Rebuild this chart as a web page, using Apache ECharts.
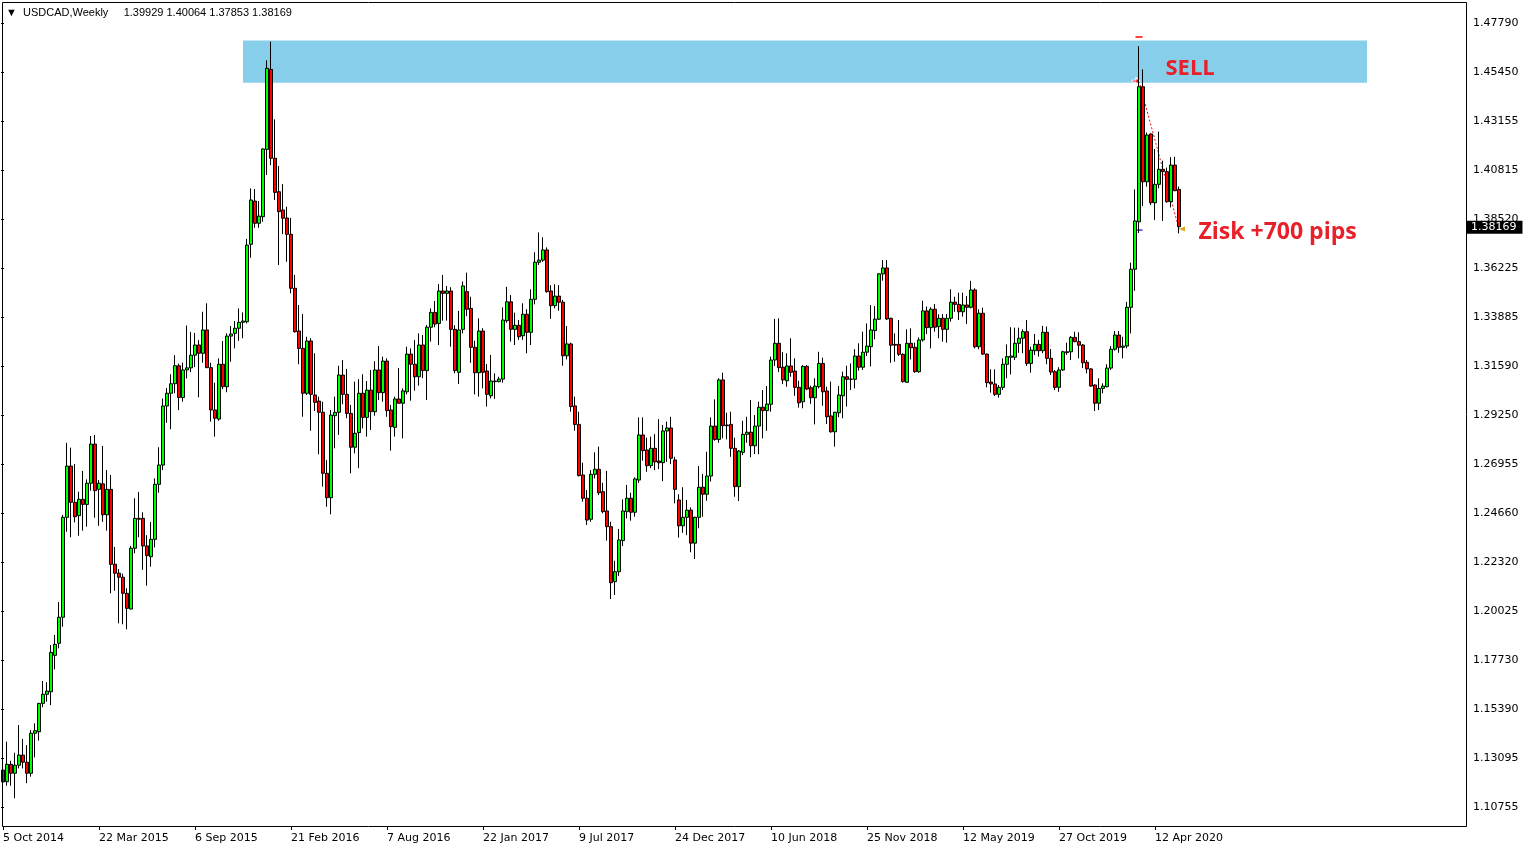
<!DOCTYPE html>
<html><head><meta charset="utf-8">
<script src="https://cdn.jsdelivr.net/npm/echarts@6/dist/echarts.min.js"></script>
<style>html,body{margin:0;padding:0;background:#fff}#c{width:1530px;height:850px}</style>
</head><body><div id="c"></div>
<script>
// ---- data (weekly USDCAD, one entry per week from 5 Oct 2014) ----
const OPEN = [
1.1250,1.1195,1.1277,1.1235,1.1273,1.1321,1.1287,1.1235,1.1424,1.1431,
1.1565,1.1608,1.1620,1.1792,1.1849,1.1972,1.2444,1.2686,1.2515,1.2452,
1.2529,1.2505,1.2605,1.2790,1.2576,1.2602,1.2456,1.2576,1.2222,1.2180,
1.2161,1.2085,1.2011,1.2298,1.2439,1.2439,1.2309,1.2258,1.2340,1.2600,
1.2691,1.2970,1.3030,1.3075,1.3160,1.3010,1.3140,1.3150,1.3210,1.3258,
1.3219,1.3329,1.3151,1.2951,1.2908,1.3167,1.3061,1.3300,1.3313,1.3337,
1.3365,1.3368,1.3734,1.3938,1.3833,1.3864,1.4182,1.4560,1.4140,1.3982,
1.3896,1.3858,1.3781,1.3526,1.3324,1.3242,1.3030,1.3277,1.3022,1.2993,
1.2940,1.2652,1.2537,1.2924,1.2940,1.3116,1.3025,1.2935,1.2775,1.2844,
1.3030,1.2916,1.3045,1.2943,1.3140,1.3033,1.3182,1.2951,1.2869,1.3003,
1.2983,1.3037,1.3215,1.3167,1.3108,1.3258,1.3137,1.3342,1.3412,1.3360,
1.3513,1.3502,1.3513,1.3332,1.3129,1.3332,1.3510,1.3431,1.3247,1.3127,
1.3324,1.3135,1.3018,1.3088,1.3085,1.3097,1.3373,1.3462,1.3332,1.3351,
1.3302,1.3403,1.3318,1.3474,1.3649,1.3659,1.3707,1.3513,1.3444,1.3489,
1.3460,1.3207,1.3263,1.2970,1.2883,1.2644,1.2534,1.2435,1.2647,1.2671,
1.2565,1.2474,1.2400,1.2140,1.2187,1.2334,1.2471,1.2534,1.2468,1.2620,
1.2833,1.2762,1.2688,1.2770,1.2710,1.2702,1.2852,1.2866,1.2715,1.2526,
1.2404,1.2444,1.2478,1.2322,1.2444,1.2586,1.2553,1.2639,1.2875,1.2812,
1.3093,1.2880,1.2883,1.2770,1.2589,1.2751,1.2836,1.2846,1.2782,1.2875,
1.2964,1.2948,1.2978,1.3187,1.3266,1.3153,1.3089,1.3159,1.3135,1.3058,
1.2990,1.3157,1.3056,1.3009,1.3061,1.3171,1.3041,1.2923,1.2848,1.2938,
1.3018,1.3108,1.3097,1.3096,1.3206,1.3153,1.3224,1.3250,1.3326,1.3380,
1.3594,1.3622,1.3384,1.3261,1.3261,1.3214,1.3082,1.3266,1.3247,1.3132,
1.3282,1.3419,1.3340,1.3427,1.3345,1.3384,1.3332,1.3384,1.3460,1.3450,
1.3415,1.3447,1.3436,1.3518,1.3250,1.3408,1.3215,1.3083,1.3074,1.3025,
1.3058,1.3167,1.3200,1.3200,1.3266,1.3290,1.3321,1.3171,1.3231,1.3261,
1.3231,1.3318,1.3195,1.3132,1.3058,1.3140,1.3222,1.3226,1.3294,1.3274,
1.3258,1.3176,1.3145,1.3069,1.2983,1.3053,1.3061,1.3149,1.3238,1.3305,
1.3247,1.3253,1.3436,1.3616,1.3840,1.4478,1.4029,1.4255,1.3930,1.4017,
1.4088,1.4077,1.3935,1.4108,1.39929];
const HIGH = [
1.1265,1.1384,1.1294,1.1332,1.1463,1.1397,1.1368,1.1439,1.1471,1.1567,
1.1671,1.1665,1.1841,1.1888,1.2044,1.2455,1.2796,1.2773,1.2696,1.2565,
1.2663,1.2623,1.2828,1.2833,1.2620,1.2781,1.2667,1.2644,1.2304,1.2200,
1.2178,1.2109,1.2309,1.2534,1.2564,1.2468,1.2360,1.2422,1.2628,1.2775,
1.3005,1.3055,1.3120,1.3210,1.3170,1.3175,1.3350,1.3320,1.3315,1.3282,
1.3415,1.3455,1.3174,1.3080,1.3195,1.3277,1.3313,1.3348,1.3371,1.3431,
1.3412,1.3759,1.3998,1.3995,1.3938,1.4187,1.4603,1.4691,1.4324,1.4104,
1.4018,1.3911,1.3858,1.3589,1.3447,1.3404,1.3297,1.3290,1.3219,1.3014,
1.2990,1.2715,1.2951,1.3014,1.3160,1.3187,1.3145,1.2975,1.3085,1.3097,
1.3120,1.3088,1.3140,1.3182,1.3253,1.3203,1.3195,1.2975,1.3014,1.3149,
1.3053,1.3250,1.3242,1.3282,1.3313,1.3305,1.3352,1.3431,1.3466,1.3546,
1.3589,1.3537,1.3531,1.3352,1.3419,1.3558,1.3600,1.3486,1.3278,1.3384,
1.3337,1.3168,1.3211,1.3124,1.3108,1.3436,1.3533,1.3494,1.3411,1.3376,
1.3455,1.3427,1.3521,1.3696,1.3790,1.3767,1.3719,1.3541,1.3545,1.3541,
1.3471,1.3348,1.3269,1.3014,1.2943,1.2702,1.2573,1.2667,1.2751,1.2778,
1.2607,1.2663,1.2423,1.2239,1.2389,1.2529,1.2597,1.2560,1.2633,1.2916,
1.2916,1.2820,1.2825,1.2837,1.2908,1.2880,1.2896,1.2919,1.2730,1.2553,
1.2586,1.2526,1.2491,1.2447,1.2686,1.2649,1.2754,1.2916,1.3001,1.3101,
1.3127,1.2938,1.2943,1.2820,1.2762,1.2900,1.2919,1.2998,1.2927,1.2990,
1.3045,1.3064,1.3203,1.3381,1.3384,1.3224,1.3219,1.3290,1.3195,1.3089,
1.3163,1.3163,1.3066,1.3101,1.3226,1.3198,1.3061,1.3085,1.2943,1.3064,
1.3132,1.3160,1.3171,1.3238,1.3266,1.3321,1.3360,1.3447,1.3442,1.3597,
1.3659,1.3659,1.3387,1.3313,1.3376,1.3219,1.3332,1.3337,1.3269,1.3294,
1.3467,1.3440,1.3436,1.3452,1.3403,1.3404,1.3404,1.3521,1.3486,1.3505,
1.3505,1.3489,1.3561,1.3526,1.3427,1.3434,1.3218,1.3143,1.3143,1.3069,
1.3195,1.3261,1.3342,1.3340,1.3340,1.3332,1.3376,1.3250,1.3310,1.3282,
1.3348,1.3345,1.3239,1.3140,1.3153,1.3231,1.3269,1.3300,1.3321,1.3318,
1.3263,1.3187,1.3149,1.3072,1.3101,1.3077,1.3167,1.3253,1.3324,1.3324,
1.3297,1.3462,1.3647,1.3993,1.4670,1.4560,1.4262,1.4258,1.4184,1.4266,
1.4129,1.4096,1.4145,1.4147,1.40064];
const LOW = [
1.1076,1.1176,1.1176,1.1117,1.1258,1.1258,1.1188,1.1219,1.1310,1.1389,
1.1547,1.1573,1.1557,1.1726,1.1825,1.1927,1.2376,1.2350,1.2420,1.2357,
1.2381,1.2400,1.2570,1.2442,1.2404,1.2423,1.2381,1.2085,1.2097,1.1943,
1.1939,1.1915,1.2009,1.2274,1.2350,1.2196,1.2121,1.2211,1.2302,1.2560,
1.2667,1.2890,1.2860,1.3030,1.2950,1.2990,1.3100,1.3130,1.3154,1.3011,
1.3174,1.3149,1.2896,1.2825,1.2900,1.3050,1.3035,1.3179,1.3242,1.3278,
1.3290,1.3360,1.3670,1.3812,1.3812,1.3840,1.4061,1.4108,1.3943,1.3636,
1.3782,1.3651,1.3502,1.3316,1.3167,1.2919,1.3022,1.2853,1.2946,1.2742,
1.2589,1.2494,1.2458,1.2770,1.2833,1.2978,1.2912,1.2652,1.2746,1.2676,
1.2864,1.2825,1.2856,1.2924,1.2998,1.2990,1.2919,1.2759,1.2825,1.2980,
1.2817,1.3025,1.2995,1.3042,1.3066,1.3101,1.2998,1.3274,1.3342,1.3258,
1.3373,1.3373,1.3250,1.3124,1.3074,1.3313,1.3394,1.3174,1.3025,1.3014,
1.3053,1.2967,1.3006,1.3003,1.3082,1.3080,1.3363,1.3274,1.3258,1.3282,
1.3282,1.3219,1.3258,1.3450,1.3636,1.3651,1.3505,1.3381,1.3431,1.3420,
1.3160,1.3190,1.2943,1.2853,1.2637,1.2518,1.2408,1.2423,1.2628,1.2549,
1.2463,1.2334,1.2058,1.2077,1.2167,1.2308,1.2439,1.2428,1.2447,1.2607,
1.2711,1.2659,1.2676,1.2667,1.2672,1.2615,1.2706,1.2695,1.2510,1.2348,
1.2371,1.2360,1.2279,1.2247,1.2392,1.2447,1.2522,1.2613,1.2806,1.2796,
1.2817,1.2812,1.2730,1.2541,1.2521,1.2738,1.2796,1.2728,1.2743,1.2742,
1.2817,1.2853,1.2943,1.3159,1.3130,1.3073,1.3061,1.3108,1.3018,1.2962,
1.2959,1.3045,1.2980,1.2883,1.3053,1.2971,1.2885,1.2844,1.2778,1.2917,
1.2912,1.2967,1.3045,1.3053,1.3137,1.3140,1.3206,1.3157,1.3285,1.3376,
1.3562,1.3376,1.3174,1.3179,1.3206,1.3080,1.3080,1.3190,1.3127,1.3127,
1.3274,1.3310,1.3242,1.3321,1.3290,1.3274,1.3269,1.3368,1.3415,1.3376,
1.3392,1.3357,1.3431,1.3242,1.3238,1.3211,1.3058,1.3033,1.3017,1.3009,
1.3045,1.3101,1.3119,1.3187,1.3221,1.3219,1.3159,1.3127,1.3211,1.3203,
1.3219,1.3167,1.3116,1.3045,1.3037,1.3135,1.3211,1.3187,1.3271,1.3195,
1.3149,1.3124,1.3061,1.2946,1.2951,1.3030,1.3058,1.3140,1.3231,1.3221,
1.3195,1.3242,1.3313,1.3514,1.3787,1.3914,1.4006,1.3919,1.3848,1.3998,
1.3844,1.3930,1.3908,1.3985,1.37853];
const CLOSE = [
1.1194,1.1277,1.1235,1.1273,1.1321,1.1287,1.1235,1.1424,1.1436,1.1565,
1.1608,1.1623,1.1806,1.1844,1.1972,1.2444,1.2686,1.2515,1.2447,1.2529,
1.2505,1.2605,1.2790,1.2570,1.2605,1.2456,1.2576,1.2222,1.2180,1.2161,
1.2085,1.2014,1.2298,1.2439,1.2435,1.2309,1.2263,1.2340,1.2600,1.2691,
1.2970,1.3030,1.3075,1.3160,1.3010,1.3140,1.3150,1.3210,1.3258,1.3219,
1.3329,1.3151,1.2951,1.2912,1.3167,1.3061,1.3300,1.3310,1.3337,1.3365,
1.3371,1.3730,1.3943,1.3833,1.3867,1.4184,1.4565,1.4140,1.3979,1.3888,
1.3857,1.3781,1.3526,1.3321,1.3242,1.3030,1.3277,1.3025,1.2987,1.2940,
1.2652,1.2537,1.2927,1.2940,1.3116,1.3025,1.2935,1.2775,1.2841,1.3030,
1.2916,1.3045,1.2943,1.3140,1.3033,1.3182,1.2948,1.2872,1.3003,1.2983,
1.3041,1.3215,1.3167,1.3108,1.3258,1.3137,1.3342,1.3412,1.3357,1.3513,
1.3502,1.3513,1.3332,1.3137,1.3329,1.3537,1.3427,1.3247,1.3127,1.3324,
1.3129,1.3025,1.3088,1.3085,1.3097,1.3376,1.3462,1.3332,1.3351,1.3297,
1.3403,1.3318,1.3474,1.3649,1.3659,1.3707,1.3510,1.3444,1.3489,1.3460,
1.3207,1.3263,1.2967,1.2883,1.2641,1.2534,1.2431,1.2647,1.2671,1.2560,
1.2471,1.2400,1.2135,1.2187,1.2337,1.2474,1.2534,1.2468,1.2625,1.2833,
1.2759,1.2688,1.2770,1.2706,1.2702,1.2852,1.2866,1.2723,1.2576,1.2404,
1.2444,1.2478,1.2322,1.2444,1.2586,1.2553,1.2639,1.2875,1.2812,1.3093,
1.2877,1.2877,1.2770,1.2589,1.2757,1.2836,1.2846,1.2782,1.2875,1.2964,
1.2948,1.2979,1.3187,1.3266,1.3151,1.3093,1.3159,1.3129,1.3058,1.2985,
1.3157,1.3050,1.3009,1.3064,1.3171,1.3037,1.2919,1.2848,1.2940,1.3022,
1.3108,1.3096,1.3096,1.3206,1.3153,1.3224,1.3253,1.3329,1.3380,1.3594,
1.3622,1.3381,1.3257,1.3257,1.3214,1.3085,1.3266,1.3245,1.3132,1.3282,
1.3419,1.3340,1.3427,1.3342,1.3384,1.3332,1.3384,1.3460,1.3450,1.3415,
1.3447,1.3436,1.3518,1.3250,1.3408,1.3215,1.3080,1.3074,1.3025,1.3058,
1.3167,1.3203,1.3206,1.3266,1.3290,1.3321,1.3171,1.3234,1.3261,1.3231,
1.3318,1.3195,1.3130,1.3058,1.3140,1.3226,1.3226,1.3294,1.3274,1.3257,
1.3174,1.3145,1.3064,1.2983,1.3053,1.3064,1.3149,1.3238,1.3305,1.3247,
1.3253,1.3436,1.3616,1.3844,1.4478,1.4029,1.4250,1.3930,1.4017,1.4088,
1.4077,1.3935,1.4108,1.3987,1.38169];

const X_TICKS = ['5 Oct 2014','22 Mar 2015','6 Sep 2015','21 Feb 2016','7 Aug 2016','22 Jan 2017',
  '9 Jul 2017','24 Dec 2017','10 Jun 2018','25 Nov 2018','12 May 2019','27 Oct 2019','12 Apr 2020'];
const Y_TICKS = ['1.10755','1.13095','1.15390','1.17730','1.20025','1.22320','1.24660','1.26955',
  '1.29250','1.31590','1.33885','1.36225','1.38520','1.40815','1.43155','1.45450','1.47790'];
const WEEKS_SHOWN = 366;      // visible weekly slots (data + empty right margin)
const LABEL_EVERY = 24;       // weeks between date labels
const Y_MIN = 1.09858, Y_MAX = 1.48783;
const ZONE_FROM = 60, ZONE_TO = 341, ZONE_TOP = 1.4697, ZONE_BOTTOM = 1.4497;
const TRADE_ENTRY_WEEK = 284, TRADE_ENTRY = 1.4505, TRADE_EXIT_WEEK = 294, TRADE_EXIT = 1.3806;
const STOP_MARK = 1.4713, TARGET_MARK = 1.3801;
const SELL_AT = [291, 1.4565], PROFIT_AT = [299, 1.3790];

// ---- chart ----
const chart = echarts.init(document.getElementById('c'), null, {renderer: 'canvas'});
const categories = Array.from({length: WEEKS_SHOWN}, (_, i) => String(i));
const candles = OPEN.map((o, i) => [o, CLOSE[i], LOW[i], HIGH[i]]);
const last = OPEN.length - 1;
const isTick = i => i % LABEL_EVERY === 0 && i / LABEL_EVERY < X_TICKS.length;
const AXIS_FONT = {fontFamily: 'DejaVu Sans', fontSize: 11, color: '#000'};
const RED_TXT = '#e8202a';

const option = {
  animation: false,
  backgroundColor: '#ffffff',
  title: {
    text: '\u25BC  USDCAD,Weekly     ' + [OPEN[last], HIGH[last], LOW[last], CLOSE[last]].map(v => v.toFixed(5)).join(' '),
    left: 6, top: 7, padding: 0,
    textStyle: {fontFamily: 'Liberation Sans', fontSize: 11, fontWeight: 'normal', color: '#000'}
  },
  grid: [
    {left: 1, width: 1464, top: 2, height: 824, show: false},
    {left: 1, width: 1465, top: 23, height: 784, show: false}
  ],
  xAxis: [
    {type: 'category', gridIndex: 0, data: categories, boundaryGap: true,
     axisLine: {show: false},
     axisTick: {show: true, interval: (i) => isTick(i), alignWithLabel: true, length: 4, lineStyle: {color: '#000'}},
     axisLabel: Object.assign({interval: (i) => isTick(i), formatter: (v, i) => X_TICKS[i / LABEL_EVERY], align: 'left', margin: 7}, AXIS_FONT),
     splitLine: {show: false}},
    {type: 'value', gridIndex: 1, show: false, min: 0, max: 1}
  ],
  yAxis: [
    {type: 'value', gridIndex: 0, min: Y_MIN, max: Y_MAX, show: false, splitLine: {show: false}},
    {type: 'value', gridIndex: 1, position: 'right', min: 0, max: Y_TICKS.length - 1, interval: 1,
     axisLine: {show: false},
     axisTick: {show: true, length: 3, inside: false, lineStyle: {color: '#000'}},
     axisLabel: Object.assign({formatter: v => Y_TICKS[Math.round(v)] || '', margin: 7}, AXIS_FONT),
     splitLine: {show: false}}
  ],
  graphic: [{
    type: 'rect', silent: true, z: 100,
    shape: {x: 2.5, y: 2.5, width: 1464, height: 824},
    style: {fill: null, stroke: '#000', lineWidth: 1}
  }],
  series: [{
    type: 'candlestick', xAxisIndex: 0, yAxisIndex: 0, z: 5,
    data: candles, barWidth: 3,
    itemStyle: {color: '#00ff00', color0: '#ff0000', borderColor: '#000', borderColor0: '#000', borderWidth: 1},
    markArea: {
      silent: true, itemStyle: {color: '#87ceeb'},
      data: [[{xAxis: String(ZONE_FROM), yAxis: ZONE_TOP}, {xAxis: String(ZONE_TO), yAxis: ZONE_BOTTOM}]]
    },
    markLine: {
      silent: true, symbol: ['none', 'none'], animation: false,
      data: [
        {yAxis: CLOSE[last], lineStyle: {color: 'rgba(0,0,0,0)', width: 1},
         label: {show: true, position: 'end', distance: 1, formatter: CLOSE[last].toFixed(5),
                 color: '#ffffff', backgroundColor: '#000000', padding: [1, 6, 1, 5],
                 fontFamily: 'DejaVu Sans', fontSize: 11, offset: [0, -3]}},
        [{coord: [String(TRADE_ENTRY_WEEK), TRADE_ENTRY], lineStyle: {color: '#ff0000', type: [2, 2], width: 1}, label: {show: false}},
         {coord: [String(TRADE_EXIT_WEEK), TRADE_EXIT]}]
      ]
    },
    markPoint: {
      silent: true, animation: false,
      data: [
        {coord: [String(SELL_AT[0]), SELL_AT[1]], symbol: 'rect', symbolSize: 1, itemStyle: {color: 'rgba(0,0,0,0)'},
         label: {show: true, position: 'right', distance: 0, offset: [-2, 0], formatter: 'SELL', color: RED_TXT,
                 fontFamily: 'Open Sans', fontSize: 22, fontWeight: 'bold'}},
        {coord: [String(PROFIT_AT[0]), PROFIT_AT[1]], symbol: 'rect', symbolSize: 1, itemStyle: {color: 'rgba(0,0,0,0)'},
         label: {show: true, position: 'right', distance: 0, offset: [-1, 0], formatter: 'Zisk +700 pips', color: RED_TXT,
                 fontFamily: 'Open Sans', fontSize: 23, fontWeight: 'bold'}},
        {coord: [String(TRADE_ENTRY_WEEK), TRADE_ENTRY], symbol: 'path://M0,3L4,3L4,0L8,4L4,8L4,5L0,5Z',
         symbolSize: [8, 7], symbolOffset: [-3, 0], itemStyle: {color: '#ff0000', borderColor: '#fff', borderWidth: 1},
         label: {show: false}},
        {coord: [String(TRADE_ENTRY_WEEK), STOP_MARK], symbol: 'rect', symbolSize: [7, 1.5],
         itemStyle: {color: '#ff0000'}, label: {show: false}},
        {coord: [String(TRADE_ENTRY_WEEK), TARGET_MARK], symbol: 'rect', symbolSize: [7, 1.2],
         itemStyle: {color: '#0000ff'}, label: {show: false}},
        {coord: [String(TRADE_EXIT_WEEK), TRADE_EXIT], symbol: 'triangle', symbolSize: [5, 6], symbolRotate: 90,
         symbolOffset: [3, 0], itemStyle: {color: '#daa520'}, label: {show: false}}
      ]
    }
  }]
};
chart.setOption(option);
</script>
</body></html>
